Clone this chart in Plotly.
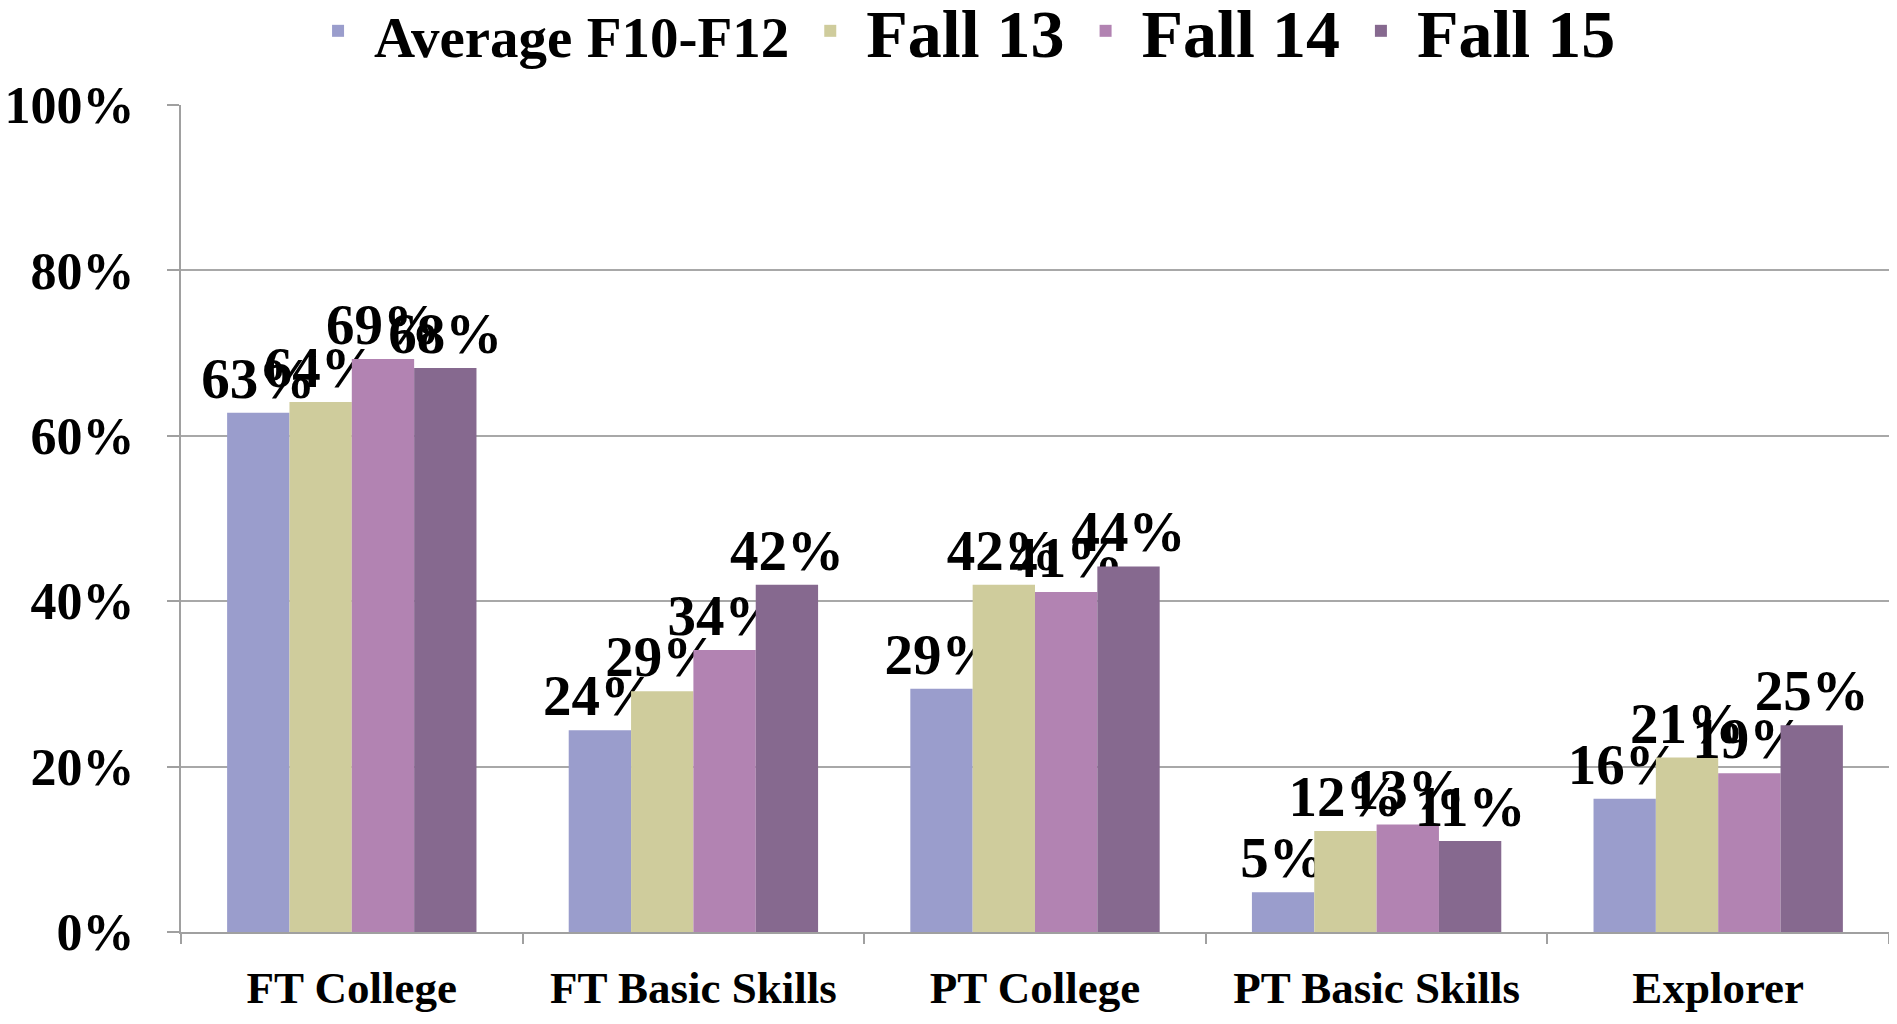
import plotly.graph_objects as go

categories = ["FT College", "FT Basic Skills", "PT College", "PT Basic Skills", "Explorer"]
series_names = ["Average F10-F12", "Fall 13", "Fall 14", "Fall 15"]
avg_f10_f12 = [0.628, 0.244, 0.294, 0.048, 0.161]
fall_13 = [0.641, 0.291, 0.420, 0.122, 0.211]
fall_14 = [0.693, 0.341, 0.411, 0.130, 0.192]
fall_15 = [0.682, 0.420, 0.442, 0.110, 0.250]
y_tick_vals = [0, 0.2, 0.4, 0.6, 0.8, 1.0]
y_tick_text = ["0%", "20%", "40%", "60%", "80%", "100%"]

series_values = [avg_f10_f12, fall_13, fall_14, fall_15]
colors = ["#9a9dcc", "#cfcc9c", "#b283b2", "#86698f"]
legend_names = [
    '<span style="font-size:57px">' + series_names[0] + '</span>',
    series_names[1], series_names[2], series_names[3],
]

FONT = "Liberation Serif"

fig = go.Figure()
for name, vals, col in zip(legend_names, series_values, colors):
    fig.add_trace(go.Bar(
        x=categories, y=vals, name=name,
        marker=dict(color=col, line=dict(width=0)),
        texttemplate="%{y:.0%}", textposition="outside",
        textfont=dict(family=FONT, size=57, color="black", weight="bold"),
        constraintext="none", cliponaxis=False,
    ))

fig.update_layout(
    width=1881, height=1008,
    barmode="group", bargap=0.27, bargroupgap=0,
    plot_bgcolor="white", paper_bgcolor="white",
    margin=dict(l=173, r=0, t=97, b=84, autoexpand=False),
    font=dict(family=FONT, color="black"),
    legend=dict(
        orientation="h", x=0.457, xanchor="center",
        y=1.151, yanchor="top", itemwidth=62,
        font=dict(family=FONT, size=68, color="black", weight="bold"),
        bgcolor="rgba(0,0,0,0)", itemclick=False,
    ),
    showlegend=True,
)
fig.update_xaxes(
    tickson="boundaries", ticks="outside", ticklen=10, tickcolor="#a0a0a0", tickwidth=2,
    showline=True, linecolor="#a0a0a0", linewidth=2, showgrid=False,
    tickfont=dict(family=FONT, size=45, color="black", weight="bold"),
    ticklabelstandoff=15, automargin=False,
)
fig.update_yaxes(
    range=[0, 1.0], tickvals=y_tick_vals, ticktext=y_tick_text,
    ticks="outside", ticklen=12, tickcolor="#a0a0a0", tickwidth=2,
    showline=True, linecolor="#a0a0a0", linewidth=2,
    showgrid=True, gridcolor="#a8a8a8", gridwidth=2, zeroline=False,
    tickfont=dict(family=FONT, size=52, color="black", weight="bold"),
    ticklabelstandoff=22, automargin=False,
)

fig.write_html("out.html")
